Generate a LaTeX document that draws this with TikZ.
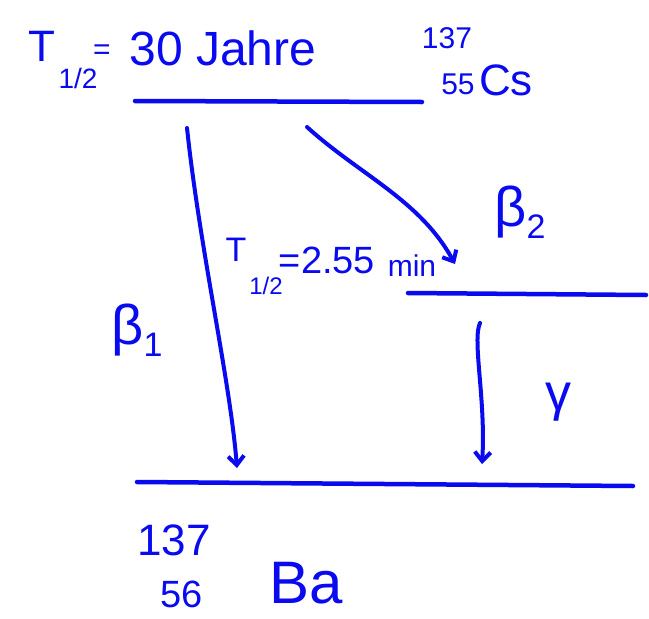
\documentclass[tikz,border=0pt]{standalone}
\usepackage{fontspec}
\setmainfont{Liberation Sans}
\usetikzlibrary{arrows.meta}
\definecolor{pen}{RGB}{10,10,240}
\newcommand{\fs}[1]{\fontsize{#1}{#1}\selectfont}
\begin{document}
\begin{tikzpicture}[x=1pt,y=-1pt,
  lbl/.style={text=pen,inner sep=0pt,anchor=center},
  level/.style={draw=pen,line width=4.5pt,line cap=round},
  trans/.style={draw=pen,line width=4pt,line cap=round,-{Straight Barb[length=9pt,width=16pt,line width=4pt]}}]
\useasboundingbox (0,0) rectangle (649,619);
% top half-life
\node[lbl,font=\fs{44}] (t1) at (42,46) {T};
\node[lbl,font=\fs{28}] (t1s) at (78,78) {1/2};
\node[lbl,font=\fs{30}] (t1e) at (102,52) {=};
\node[lbl,font=\fs{48}] (t1v) at (223,48) {30 Jahre};
% Cs
\node[lbl,font=\fs{30}] (cs137) at (447,38) {137};
\node[lbl,font=\fs{30}] (cs55) at (458,84) {55};
\node[lbl,font=\fs{44}] (cs) at (506,80) {Cs};
% levels
\coordinate (topL) at (135,101);
\coordinate (topR) at (422,102);
\coordinate (midL) at (408,293);
\coordinate (midR) at (646,295);
\coordinate (botL) at (137,482);
\coordinate (botR) at (633,486);
\draw[level] (topL) -- (topR);
\draw[level] (midL) -- (midR);
\draw[level] (botL) -- (botR);
% transitions
\coordinate (b1s) at (187,128);
\coordinate (b1e) at (237,468);
\coordinate (b2s) at (307,127);
\coordinate (b2e) at (455,264);
\coordinate (gs) at (480,323);
\coordinate (ge) at (482,464);
\draw[trans] (b1s) .. controls (200,250) and (230,380) .. (b1e);
\draw[trans] (b2s) .. controls (360,175) and (420,200) .. (b2e);
\draw[trans] (gs) .. controls (472,340) and (486,400) .. (ge);
% labels
\node[lbl,font=\fs{56}] (beta1) at (137,330) {β\raisebox{-12pt}{\fs{34}1}};
\node[lbl,font=\fs{56}] (beta2) at (520,212) {β\raisebox{-12pt}{\fs{34}2}};
\node[lbl,font=\fs{52}] (gam) at (558,402) {γ};
% middle half-life
\node[lbl,font=\fs{34}] (t2) at (236,250) {T};
\node[lbl,font=\fs{24}] (t2s) at (266,286) {1/2};
\node[lbl,font=\fs{38}] (t2v) at (327,260) {=2.55};
\node[lbl,font=\fs{30}] (t2u) at (412,266) {min};
% Ba
\node[lbl,font=\fs{44}] (ba137) at (174,540) {137};
\node[lbl,font=\fs{38}] (ba56) at (182,594) {56};
\node[lbl,font=\fs{60}] (ba) at (306,583) {Ba};
\end{tikzpicture}
\end{document}
